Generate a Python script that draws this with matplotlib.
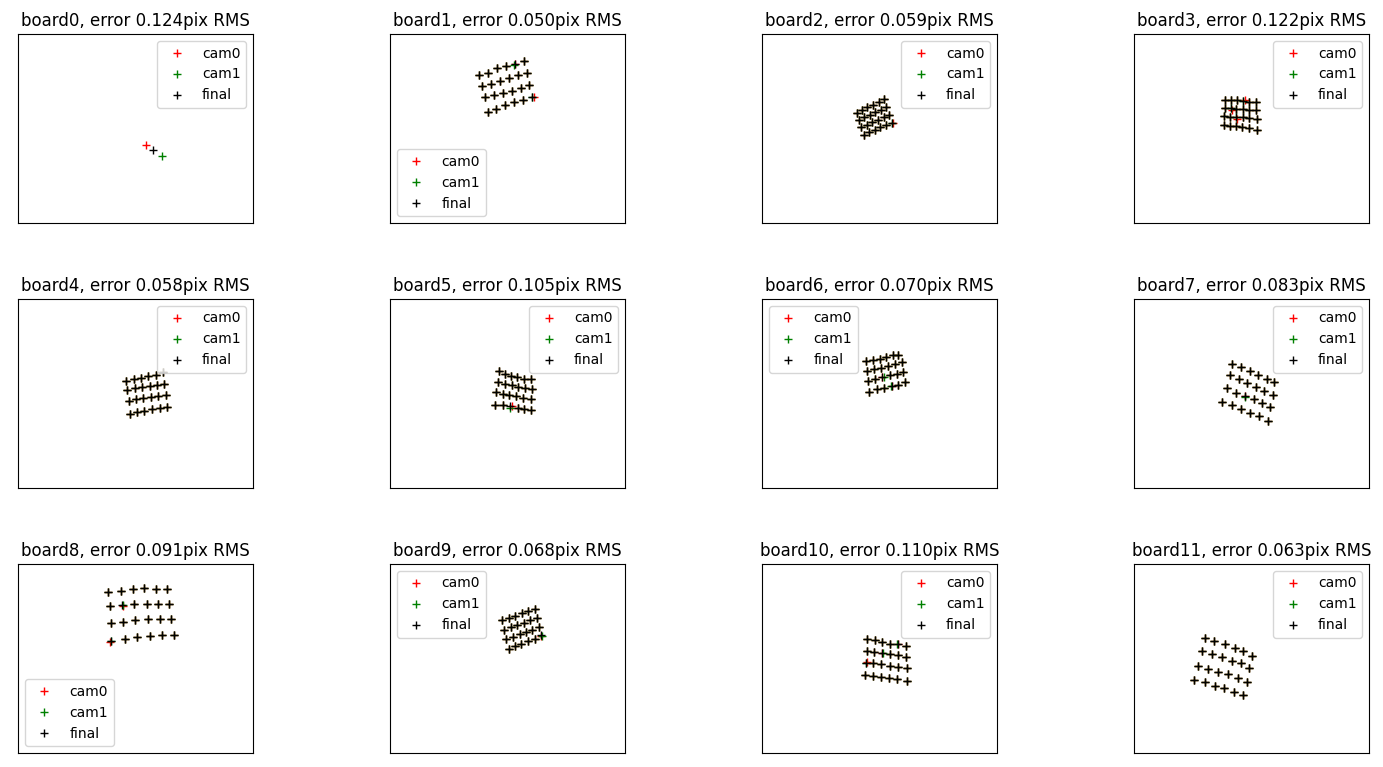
import numpy as np
import matplotlib.pyplot as plt

# image frame of the camera (pixels)
IMG_W, IMG_H = 640, 512

rms_err = [0.124, 0.050, 0.059, 0.122, 0.058, 0.105,
           0.070, 0.083, 0.091, 0.068, 0.110, 0.063]

legend_loc = ['upper right', 'lower left', 'upper right', 'upper right',
              'upper right', 'upper right', 'upper left', 'upper right',
              'lower left', 'upper left', 'upper right', 'upper right']

# fused ("final") corner positions per board, row by row (4 rows x 6 cols)
final_xy = [
    [(369, 313)],
    [(242, 112), (268, 105), (291, 93), (316, 87), (340, 82), (364, 72),
     (251, 141), (276, 135), (300, 128), (325, 119), (349, 111), (372, 106),
     (259, 172), (283, 166), (307, 159), (331, 154), (356, 145), (378, 139),
     (266, 210), (290, 203), (314, 192), (337, 184), (362, 180), (387, 171)],
    [(258, 214), (273, 207), (287, 199), (303, 192), (318, 185), (333, 177),
     (264, 233), (279, 226), (294, 219), (309, 212), (325, 205), (339, 198),
     (270, 253), (286, 246), (300, 239), (316, 232), (331, 225), (346, 220),
     (278, 273), (292, 266), (307, 260), (322, 252), (337, 247), (353, 242)],
    [(248, 178), (265, 179), (281, 180), (297, 181), (314, 183), (332, 185),
     (247, 200), (263, 201), (279, 202), (296, 204), (313, 206), (333, 207),
     (246, 223), (262, 224), (278, 225), (296, 226), (312, 228), (334, 231),
     (244, 247), (261, 248), (277, 250), (295, 251), (312, 254), (334, 259)],
    [(294, 221), (315, 217), (336, 213), (355, 209), (375, 206), (395, 199),
     (298, 246), (319, 242), (339, 239), (359, 236), (379, 233), (398, 231),
     (301, 275), (321, 271), (341, 269), (361, 266), (381, 263), (402, 260),
     (305, 311), (325, 307), (344, 303), (364, 299), (386, 295), (407, 292)],
    [(296, 196), (314, 203), (330, 208), (347, 212), (365, 216), (384, 218),
     (294, 225), (312, 229), (331, 234), (349, 238), (367, 241), (386, 245),
     (289, 253), (307, 256), (325, 260), (344, 263), (363, 267), (383, 271),
     (287, 286), (307, 288), (328, 291), (348, 295), (366, 297), (384, 302)],
    [(282, 169), (303, 165), (322, 162), (339, 158), (356, 153), (371, 151),
     (287, 194), (306, 190), (324, 186), (344, 181), (362, 176), (381, 172),
     (289, 223), (309, 217), (328, 211), (349, 207), (367, 203), (384, 199),
     (292, 252), (313, 245), (333, 240), (353, 235), (371, 232), (389, 226)],
    [(268, 176), (292, 184), (315, 195), (338, 207), (362, 216), (382, 226),
     (261, 207), (286, 216), (309, 227), (333, 238), (354, 248), (378, 260),
     (253, 241), (277, 254), (301, 263), (327, 272), (349, 281), (371, 292),
     (241, 279), (267, 288), (292, 298), (316, 310), (341, 317), (364, 330)],
    [(246, 76), (280, 72), (313, 69), (344, 66), (376, 67), (407, 69),
     (251, 115), (284, 112), (316, 109), (351, 108), (382, 108), (412, 109),
     (253, 160), (287, 158), (320, 153), (354, 148), (387, 150), (416, 148),
     (253, 208), (291, 203), (325, 199), (360, 194), (391, 193), (425, 192)],
    [(306, 153), (324, 146), (341, 140), (359, 134), (376, 128), (394, 121),
     (311, 178), (329, 172), (347, 165), (364, 159), (382, 153), (400, 146),
     (317, 204), (334, 198), (353, 191), (370, 185), (388, 179), (406, 171),
     (323, 229), (341, 222), (358, 216), (376, 208), (394, 202), (411, 193)],
    [(287, 202), (307, 207), (327, 212), (348, 216), (371, 218), (392, 221),
     (285, 236), (306, 239), (327, 241), (348, 244), (371, 247), (391, 251),
     (282, 268), (303, 269), (325, 272), (348, 275), (371, 278), (395, 282),
     (280, 300), (301, 303), (323, 307), (345, 310), (368, 312), (396, 316)],
    [(192, 200), (219, 209), (247, 218), (274, 227), (298, 236), (321, 248),
     (185, 236), (212, 244), (240, 253), (267, 262), (291, 269), (314, 283),
     (174, 275), (201, 285), (229, 292), (256, 299), (283, 308), (307, 319),
     (163, 313), (193, 321), (220, 330), (246, 337), (271, 346), (296, 355)],
]

# per-camera residuals w.r.t. final (board -> {point index: (dx, dy)}); others ~0
cam0_resid = {0: {0: (-20, -13)}, 1: {23: (4, -1)}, 2: {23: (3, 0)},
              3: {3: (4, -2), 7: (3, 5), 14: (3, 4)}, 5: {20: (3, -2)},
              8: {18: (-2, 3), 7: (2, 3)}, 9: {23: (-1, 2)}, 10: {12: (3, -2)}}
cam1_resid = {0: {0: (22, 17)}, 1: {4: (-3, 2)}, 5: {20: (-1, 4)},
              6: {14: (4, 1), 21: (-3, 1)}, 7: {14: (2, 2)},
              8: {7: (3, -2), 20: (-2, -2)}, 9: {14: (2, -2), 23: (3, 1)},
              10: {4: (-3, 0), 8: (2, -1)}}


def with_resid(pts, resid):
    pts = np.array(pts, dtype=float)
    for i, (dx, dy) in resid.items():
        pts[i] += (dx, dy)
    return pts


fig, axes = plt.subplots(3, 4, figsize=(13.83, 7.67), dpi=100)
fig.subplots_adjust(left=18 / 1383, right=1369 / 1383, bottom=14 / 767,
                    top=1 - 34 / 767, wspace=0.583, hspace=0.402)

for b, ax in enumerate(axes.flat):
    fin = np.array(final_xy[b], dtype=float)
    c0 = with_resid(final_xy[b], cam0_resid.get(b, {}))
    c1 = with_resid(final_xy[b], cam1_resid.get(b, {}))
    ax.plot(c0[:, 0], c0[:, 1], 'r+', label='cam0')
    ax.plot(c1[:, 0], c1[:, 1], 'g+', label='cam1')
    ax.plot(fin[:, 0], fin[:, 1], 'k+', label='final')
    ax.set_xlim(0, IMG_W)
    ax.set_ylim(IMG_H, 0)
    ax.set_xticks([])
    ax.set_yticks([])
    ax.set_title('board%d, error %.3fpix RMS' % (b, rms_err[b]))
    ax.legend(loc=legend_loc[b])

plt.savefig('out.png')
